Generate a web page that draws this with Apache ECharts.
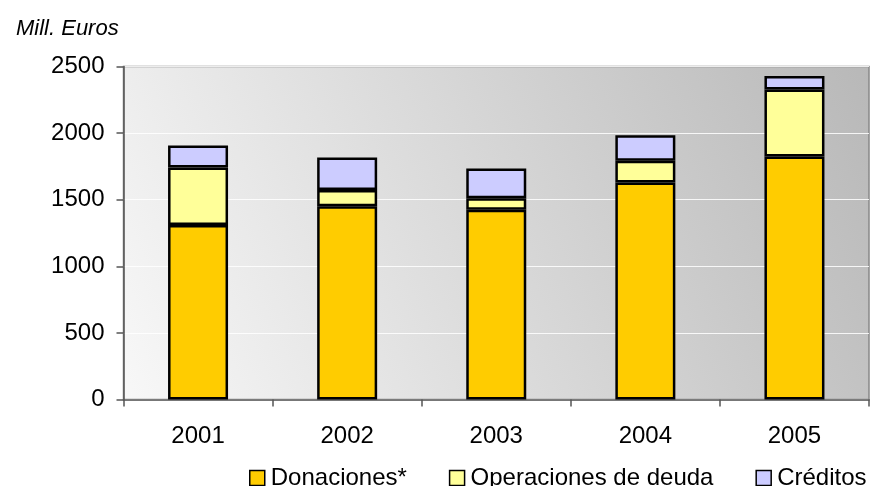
<!DOCTYPE html>
<html>
<head>
<meta charset="utf-8">
<script src="https://cdn.jsdelivr.net/npm/echarts@6/dist/echarts.min.js"></script>
<style>html,body{margin:0;padding:0;background:#fff}#c{width:872px;height:486px}</style>
</head>
<body>
<div id="c"></div>
<script>
var categories = ['2001', '2002', '2003', '2004', '2005'];
var donaciones = [1310, 1450, 1425, 1630, 1825];
var operaciones = [432, 122, 85, 163, 502];
var creditos = [165, 245, 225, 190, 102];
var yTicks = { min: 0, max: 2500, interval: 500 };

var font = 'Liberation Sans, Arial, sans-serif';
var chart = echarts.init(document.getElementById('c'), null, { renderer: 'canvas' });
function ser(name, data, color) {
  return {
    name: name, type: 'bar', stack: 'total', data: data, barWidth: 60,
    itemStyle: { color: color, borderColor: '#000', borderWidth: 2.5 },
    emphasis: { disabled: true }
  };
}
chart.setOption({
  animation: false,
  title: {
    text: 'Mill. Euros', left: 11, top: 13,
    textStyle: { fontFamily: font, fontStyle: 'italic', fontWeight: 'normal', fontSize: 22, color: '#000' }
  },
  grid: {
    left: 123.5, right: 3, top: 66.5, bottom: 86.5, show: true,
    borderColor: '#888', borderWidth: 1.5,
    backgroundColor: { type: 'linear', x: 0, y: 1, x2: 1, y2: 0,
      colorStops: [{ offset: 0, color: '#f8f8f8' }, { offset: 1, color: '#b8b8b8' }] }
  },
  legend: {
    left: 244, top: 461, width: 760, itemWidth: 15, itemHeight: 15, itemGap: 42,
    icon: 'rect',
    itemStyle: { borderColor: '#000', borderWidth: 1.5 },
    textStyle: { fontFamily: font, fontSize: 24, color: '#000', padding: [0, 0, 0, 1] },
    data: ['Donaciones*', 'Operaciones de deuda', 'Créditos']
  },
  xAxis: {
    type: 'category', data: categories,
    axisLine: { lineStyle: { color: '#555', width: 1.5 } },
    axisTick: { show: true, length: 7, lineStyle: { color: '#555', width: 1.5 } },
    axisLabel: { fontFamily: font, fontSize: 24, color: '#000', margin: 25 }
  },
  yAxis: {
    type: 'value', min: yTicks.min, max: yTicks.max, interval: yTicks.interval,
    axisLine: { show: true, lineStyle: { color: '#555', width: 1.5 } },
    axisTick: { show: true, length: 7, lineStyle: { color: '#555', width: 1.5 } },
    splitLine: { lineStyle: { color: 'rgba(255,255,255,0.85)', width: 1.2 } },
    axisLabel: { fontFamily: font, fontSize: 24, color: '#000', margin: 19,
      formatter: function (v) { return String(v); } }
  },
  series: [
    ser('Donaciones*', donaciones, '#FFCC00'),
    ser('Operaciones de deuda', operaciones, '#FFFF99'),
    ser('Créditos', creditos, '#CCCCFF')
  ]
});
</script>
</body>
</html>
